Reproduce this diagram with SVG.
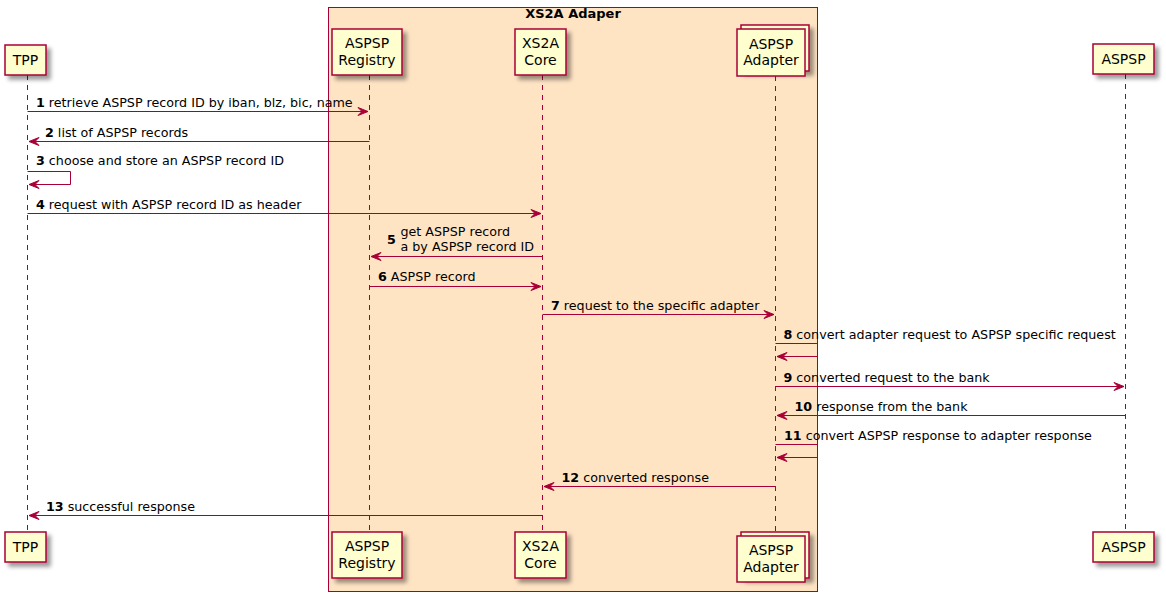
<svg xmlns="http://www.w3.org/2000/svg" width="1166" height="597" viewBox="0 0 1166 597">
<style>
.p{fill:#FEFECE;stroke:#A80036;stroke-width:1.5}
.pt{font-family:"DejaVu Sans","Liberation Sans",sans-serif;font-size:14px;fill:#000;text-anchor:middle}
.ll{stroke:#A80036;stroke-width:1;stroke-dasharray:5,5;fill:none}
.m{stroke:#A80036;stroke-width:1;fill:none}
.ah{fill:#A80036;stroke:#A80036;stroke-width:1}
.mt{font-family:"DejaVu Sans","Liberation Sans",sans-serif;font-size:12.7px;fill:#000}
.n{font-weight:bold}
</style>
<defs>
<filter id="sh" x="-1" y="-1" width="300%" height="300%">
<feGaussianBlur result="b" stdDeviation="2"/>
<feColorMatrix type="matrix" in="b" result="b2" values="0 0 0 0 0 0 0 0 0 0 0 0 0 0 0 0 0 0 .4 0"/>
<feOffset result="b3" in="b2" dx="4" dy="4"/>
<feBlend in="SourceGraphic" in2="b3" mode="normal"/>
</filter>
</defs>
<rect width="1166" height="597" fill="#FFFFFF"/>
<g id="box-xs2a-adaper">
<rect x="328.5" y="7.5" width="489" height="584" fill="#FFE4C4" stroke="#A80036" stroke-width="1"/>
<text x="573" y="18" font-family="DejaVu Sans,Liberation Sans,sans-serif" font-size="13" font-weight="bold" text-anchor="middle">XS2A Adaper</text>
</g>
<g id="lifelines">
<line class="ll" x1="27.5" y1="75" x2="27.5" y2="532"/>
<line class="ll" x1="369.5" y1="75" x2="369.5" y2="532"/>
<line class="ll" x1="542.5" y1="75" x2="542.5" y2="532"/>
<line class="ll" x1="775.5" y1="76" x2="775.5" y2="532"/>
<line class="ll" x1="1125.5" y1="74" x2="1125.5" y2="532"/>
</g>
<g id="TPP">
<rect class="p" filter="url(#sh)" x="5" y="45" width="41" height="30"/>
<text class="pt" x="25.5" y="65">TPP</text>
<rect class="p" filter="url(#sh)" x="5" y="532" width="41" height="30"/>
<text class="pt" x="25.5" y="552">TPP</text>
</g>
<g id="ASPSP-Registry">
<rect class="p" filter="url(#sh)" x="332" y="29" width="70" height="46"/>
<text class="pt" x="367" y="48">ASPSP</text>
<text class="pt" x="367" y="64.5">Registry</text>
<rect class="p" filter="url(#sh)" x="332" y="532" width="70" height="46"/>
<text class="pt" x="367" y="551">ASPSP</text>
<text class="pt" x="367" y="567.5">Registry</text>
</g>
<g id="XS2A-Core">
<rect class="p" filter="url(#sh)" x="515" y="29" width="51" height="46"/>
<text class="pt" x="540.5" y="48">XS2A</text>
<text class="pt" x="540.5" y="64.5">Core</text>
<rect class="p" filter="url(#sh)" x="515" y="532" width="51" height="46"/>
<text class="pt" x="540.5" y="551">XS2A</text>
<text class="pt" x="540.5" y="567.5">Core</text>
</g>
<g id="ASPSP-Adapter">
<rect class="p" filter="url(#sh)" x="741" y="25" width="68" height="46"/>
<rect class="p" x="737" y="29" width="68" height="47"/>
<text class="pt" x="771" y="48.5">ASPSP</text>
<text class="pt" x="771" y="65">Adapter</text>
<rect class="p" filter="url(#sh)" x="741" y="532" width="68" height="46"/>
<rect class="p" x="737" y="536" width="68" height="46"/>
<text class="pt" x="771" y="555">ASPSP</text>
<text class="pt" x="771" y="571.5">Adapter</text>
</g>
<g id="ASPSP">
<rect class="p" filter="url(#sh)" x="1093" y="44" width="61" height="30"/>
<text class="pt" x="1123.5" y="64">ASPSP</text>
<rect class="p" filter="url(#sh)" x="1093" y="532" width="61" height="30"/>
<text class="pt" x="1123.5" y="552">ASPSP</text>
</g>
<g id="connectors">
<line class="m" x1="27.5" y1="111.5" x2="368" y2="111.5"/>
<polygon class="ah" points="368,111.5 358,107.5 362,111.5 358,115.5"/>
<text class="mt" x="36" y="107"><tspan class="n">1</tspan> retrieve ASPSP record ID by iban, blz, bic, name</text>
<line class="m" x1="369.5" y1="141.5" x2="29" y2="141.5"/>
<polygon class="ah" points="29,141.5 39,137.5 35,141.5 39,145.5"/>
<text class="mt" x="45" y="137"><tspan class="n">2</tspan> list of ASPSP records</text>
<polyline class="m" points="27.5,171.5 70.5,171.5 70.5,184.5 29,184.5"/>
<polygon class="ah" points="29,184.5 39,180.5 35,184.5 39,188.5"/>
<text class="mt" x="36" y="165"><tspan class="n">3</tspan> choose and store an ASPSP record ID</text>
<line class="m" x1="27.5" y1="213.5" x2="541" y2="213.5"/>
<polygon class="ah" points="541,213.5 531,209.5 535,213.5 531,217.5"/>
<text class="mt" x="36" y="209"><tspan class="n">4</tspan> request with ASPSP record ID as header</text>
<line class="m" x1="542.5" y1="256.5" x2="371" y2="256.5"/>
<polygon class="ah" points="371,256.5 381,252.5 377,256.5 381,260.5"/>
<text class="mt n" x="387" y="244">5</text>
<text class="mt" x="400.5" y="236">get ASPSP record</text>
<text class="mt" x="400.5" y="251">a by ASPSP record ID</text>
<line class="m" x1="369.5" y1="286.5" x2="541" y2="286.5"/>
<polygon class="ah" points="541,286.5 531,282.5 535,286.5 531,290.5"/>
<text class="mt" x="378" y="281"><tspan class="n">6</tspan> ASPSP record</text>
<line class="m" x1="542.5" y1="314.5" x2="774" y2="314.5"/>
<polygon class="ah" points="774,314.5 764,310.5 768,314.5 764,318.5"/>
<text class="mt" x="551" y="310"><tspan class="n">7</tspan> request to the specific adapter</text>
<polyline class="m" points="775.5,343.5 817.5,343.5 817.5,356.5 777,356.5"/>
<polygon class="ah" points="777,356.5 787,352.5 783,356.5 787,360.5"/>
<text class="mt" x="783.5" y="339"><tspan class="n">8</tspan> convert adapter request to ASPSP specific request</text>
<line class="m" x1="775.5" y1="386.5" x2="1124" y2="386.5"/>
<polygon class="ah" points="1124,386.5 1114,382.5 1118,386.5 1114,390.5"/>
<text class="mt" x="783.5" y="382"><tspan class="n">9</tspan> converted request to the bank</text>
<line class="m" x1="1125.5" y1="415.5" x2="777" y2="415.5"/>
<polygon class="ah" points="777,415.5 787,411.5 783,415.5 787,419.5"/>
<text class="mt" x="794.5" y="411"><tspan class="n">10</tspan> response from the bank</text>
<polyline class="m" points="775.5,444.5 817.5,444.5 817.5,457.5 777,457.5"/>
<polygon class="ah" points="777,457.5 787,453.5 783,457.5 787,461.5"/>
<text class="mt" x="784" y="440"><tspan class="n">11</tspan> convert ASPSP response to adapter response</text>
<line class="m" x1="775.5" y1="486.5" x2="544" y2="486.5"/>
<polygon class="ah" points="544,486.5 554,482.5 550,486.5 554,490.5"/>
<text class="mt" x="561.5" y="481.5"><tspan class="n">12</tspan> converted response</text>
<line class="m" x1="542.5" y1="515.5" x2="29" y2="515.5"/>
<polygon class="ah" points="29,515.5 39,511.5 35,515.5 39,519.5"/>
<text class="mt" x="46" y="511"><tspan class="n">13</tspan> successful response</text>
</g>
</svg>
